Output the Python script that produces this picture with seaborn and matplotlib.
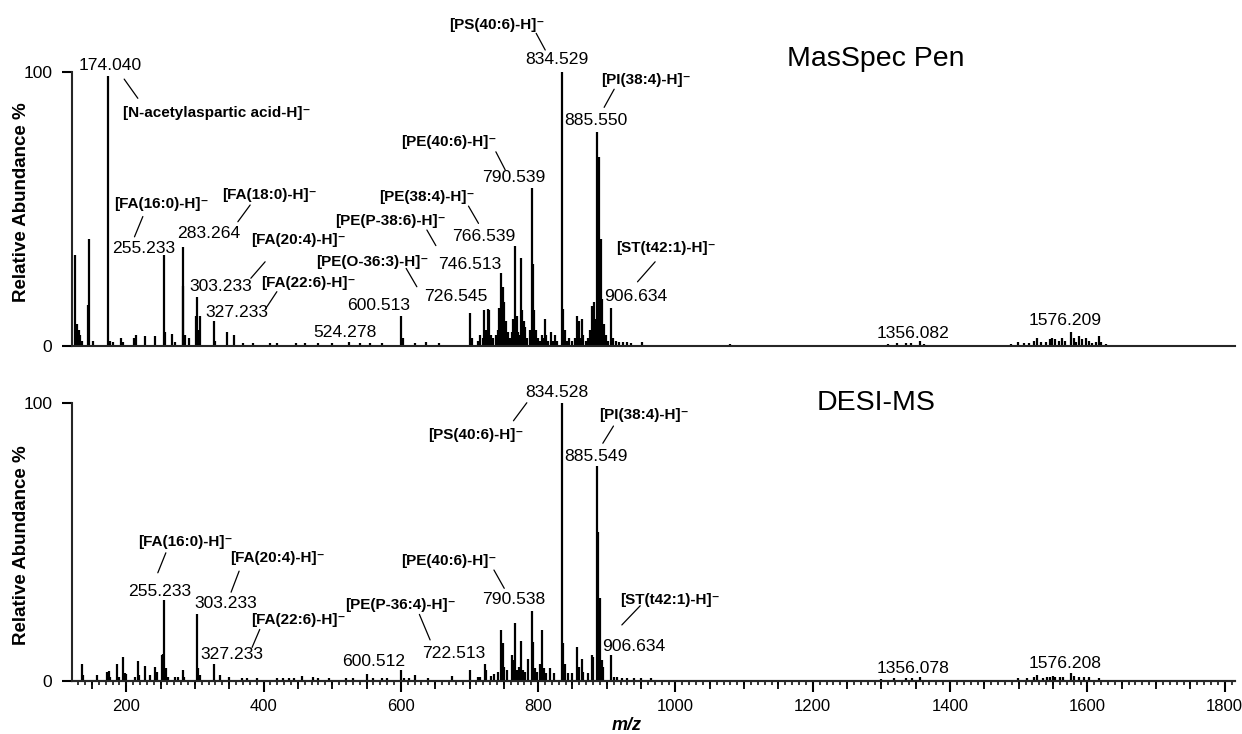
import matplotlib
matplotlib.use("Agg")
import matplotlib.pyplot as plt
from matplotlib.ticker import MultipleLocator, FixedLocator, NullFormatter
import seaborn as sns

# ---------------- data ----------------
top_mz = [125.6, 127.5, 129.0, 131.0, 133.0, 135.5, 144.5, 146.1, 151.0, 174.04, 176.0, 180.0,
          192.0, 196.0, 212.0, 214.5, 227.0, 242.0, 255.233, 257.0, 267.0, 271.0, 282.4, 283.264,
          285.0, 291.0, 301.5, 303.233, 305.0, 307.6, 327.233, 329.0, 346.5, 357.6, 370, 385, 410,
          420, 447, 460, 480, 500, 524.278, 540, 555, 572, 600.513, 602.5, 620, 637, 655,
          700.5, 703, 712, 715.5, 719, 721.8, 724, 726.545, 728.6, 731, 734, 738, 741, 743.6,
          746.513, 748.1, 750.5, 753, 756, 759, 762, 763.5, 766.539, 768.5, 770, 772, 775.3,
          777, 779, 781.5, 784, 788, 790.539, 792.6, 794.5, 797, 800, 803, 806, 808, 810.2,
          812, 815, 818, 821, 825, 828, 834.529, 836.5, 838.5, 842, 845, 850, 853, 856.4, 859,
          861, 863.7, 866, 870, 873, 875.5, 878.3, 881, 883, 885.55, 887.2, 888.9, 891.3, 893.5,
          896, 899, 902, 906.634, 909, 914, 918, 923, 929, 935, 951, 970, 1010, 1080, 1300,
          1310, 1322, 1336, 1343, 1356.082, 1362, 1470, 1488, 1499, 1507, 1515, 1522, 1527,
          1533, 1540, 1545, 1549, 1553, 1558, 1563, 1568, 1576.209, 1580, 1584, 1588, 1592,
          1598, 1602, 1606, 1612, 1617, 1620, 1627, 1645, 1660, 1670, 1687, 1725]
top_int = [33, 8, 8, 6, 4, 2, 15, 39, 2, 98.5, 2, 1.5,
           3, 1.5, 3, 4, 3.5, 3.5, 33, 5, 4.5, 1.5, 22, 36,
           4, 3, 11, 18, 6, 11, 9, 2, 5, 4, 1, 1, 1,
           1, 1, 1.2, 1.2, 1, 1.5, 1, 1, 1, 11, 3, 1, 1.5, 1,
           12, 3, 2, 4, 3, 13, 6, 13.5, 13, 4, 3, 4, 6, 14,
           26.5, 21.5, 16, 9, 5, 3, 5, 10, 36.5, 11, 5, 4, 32,
           13, 9, 7, 3, 6, 57.5, 30, 13, 6, 3, 2, 4, 3, 10,
           4, 2, 5, 2, 4, 2, 100, 13.5, 6, 2, 3, 2, 3, 11, 9,
           3, 10, 4, 2, 3, 6, 14.5, 16, 10, 78, 30, 69, 39, 17,
           8, 4, 2, 14, 3, 2, 1.5, 1.5, 1.5, 1, 1.5, 0.5, 0.5, 0.8, 0.5,
           0.8, 1, 1.2, 1, 2, 0.8, 0.5, 0.8, 1.5, 1, 1.2, 1.8, 3,
           1.5, 1.5, 2.5, 3, 2.5, 1.8, 3, 2, 5, 3, 1.5, 3.5, 2.5,
           3, 2, 1.2, 1.5, 3.5, 1.5, 0.6, 0.5, 0.5, 0.5, 0.5, 0.5]

bot_mz = [135.3, 137, 157.2, 171.7, 173.5, 175, 177, 187.2, 190, 196, 198, 200, 213, 216.9,
          219, 227.5, 234, 242.1, 245, 251.9, 253.5, 255.233, 257.5, 261, 271, 276, 282.4, 284,
          303.233, 305, 307, 327.233, 336.8, 350, 368, 376, 390, 420, 428, 437, 445, 455.5,
          472, 480, 495, 520, 530, 550.4, 560, 572, 580, 600.512, 605, 612, 620.8, 640, 674.2,
          700, 712, 716, 722.513, 724.5, 731, 736, 741, 746.1, 748.1, 750.5, 755, 761.7, 763.5,
          766.5, 768.5, 772, 775.3, 777.5, 781, 785, 790.538, 792.6, 795, 798, 803, 806.3, 808.5,
          812, 817, 823, 834.528, 836.9, 838.5, 843, 850, 856.4, 859, 863.7, 866, 872, 878.3,
          880.5, 885.549, 887.6, 890, 892.5, 895, 906.634, 910, 915, 922, 930, 940, 950, 965,
          1300, 1318, 1336, 1344, 1356.078, 1499, 1512, 1522, 1527, 1536, 1541, 1545, 1550,
          1553, 1560, 1565, 1576.208, 1580, 1588, 1595, 1602, 1617]
bot_int = [6.2, 2, 2, 3, 3.2, 3.5, 1.5, 5.9, 1.5, 8.4, 2.6, 2.5, 1.5, 7.1,
           2, 5.4, 2, 5, 3.2, 9.3, 9.6, 29.1, 4.4, 1.5, 1.5, 1.5, 3.8, 1.5,
           23.9, 4.4, 2, 5.9, 2, 1.2, 1, 1, 1, 1, 1, 1, 1, 1.8,
           1.4, 1, 1, 1, 1, 2.4, 1, 1, 1, 3.8, 1, 1, 2, 0.8, 1.7,
           3.8, 1.5, 1.5, 6.2, 4, 1.7, 2.4, 3.2, 18.3, 13.5, 5, 4, 9.3, 7.5,
           20.7, 4, 5, 14.4, 4, 3.2, 8, 25.1, 14, 4.4, 3.2, 6.2, 18.3, 4.4,
           2.6, 4.4, 2.6, 100, 13.5, 6.2, 2.6, 2.6, 12.3, 5, 8, 3.2, 2.6, 9.3,
           8.7, 77.5, 53.7, 29.7, 7.5, 5, 9.3, 1.5, 1.2, 1, 1, 1, 0.8, 0.8,
           0.5, 0.8, 1, 1, 1.2, 1, 1, 1.5, 2.2, 1, 1.2, 1.5, 1.8,
           1.5, 1.3, 1.3, 2.8, 1.8, 1.3, 1.3, 1.2, 1]

# annotation texts: (text, m/z, %)
top_numbers = [("174.040", 176.5, 102.4), ("255.233", 226, 35.6), ("283.264", 319.7, 41.1),
               ("303.233", 337.2, 21.6), ("327.233", 360.5, 12.1), ("524.278", 518.9, 5.0),
               ("600.513", 567, 14.6), ("726.545", 680.1, 18.2), ("746.513", 701, 29.8),
               ("766.539", 720.3, 39.8), ("790.539", 764, 61.4), ("834.529", 827.7, 104.5),
               ("885.550", 884.5, 82.1), ("906.634", 941.7, 18.2), ("1356.082", 1346.7, 4.6),
               ("1576.209", 1567.7, 9.2)]
top_ions = [("[FA(16:0)-H]", 251.3, 51.8), ("[FA(18:0)-H]", 408.6, 55),
            ("[FA(20:4)-H]", 450.4, 38.6), ("[FA(22:6)-H]", 466, 22.9),
            ("[PE(O-36:3)-H]", 558.2, 30.7), ("[PE(P-38:6)-H]", 584.4, 45.7),
            ("[PE(38:4)-H]", 638.3, 54.4), ("[PE(40:6)-H]", 670.3, 74.5),
            ("[PS(40:6)-H]", 740.3, 117), ("[PI(38:4)-H]", 956.8, 97),
            ("[ST(t42:1)-H]", 985.4, 35.6)]
top_leaders = [((197, 97.3), (216.9, 90.3)), ((224.2, 47.2), (212, 39.8)),
               ((380.5, 51.4), (362.6, 45.3)), ((402.3, 30.7), (381.5, 24.7)),
               ((419.4, 19.8), (403.3, 13.7)), ((607.7, 28.3), (623.3, 21.6)),
               ((637.9, 42.3), (651, 36.6)), ((698.5, 51), (713.1, 44.7)),
               ((738.4, 70.8), (752, 64.2)), ((797.1, 114), (810.3, 107.9)),
               ((910.7, 93.6), (896.1, 87)), ((970.4, 30.7), (944.7, 23.4))]

bot_numbers = [("255.233", 249.4, 32.1), ("303.233", 344.5, 27.9), ("327.233", 354.6, 9.3),
               ("600.512", 560, 6.9), ("722.513", 677.2, 9.9), ("790.538", 764, 29.1),
               ("834.528", 827.7, 103.8), ("885.549", 884.5, 81), ("906.634", 939.8, 12.5),
               ("1356.078", 1346.7, 4.5), ("1576.208", 1567.7, 6.3)]
bot_ions = [("[FA(16:0)-H]", 286.8, 50.1), ("[FA(20:4)-H]", 420.8, 44.1),
            ("[FA(22:6)-H]", 450.8, 21.9), ("[PE(P-36:4)-H]", 599.9, 27.3),
            ("[PE(40:6)-H]", 670.3, 43.3), ("[PS(40:6)-H]", 708.7, 88.6),
            ("[PI(38:4)-H]", 954.3, 95.8), ("[ST(t42:1)-H]", 991.7, 29.1)]
bot_leaders = [((257.7, 46.1), (246, 38.9)), ((364.4, 39.5), (352.7, 31.9)),
               ((394.5, 18.5), (383.3, 12)), ((627, 23.9), (642.6, 14.7)),
               ((735.6, 39.9), (750.6, 33.3)), ((764, 93.7), (783.5, 100.2)),
               ((909.7, 91.8), (894.2, 85.6)), ((948.6, 27), (921.9, 20.1))]

# ---------------- style ----------------
sns.set_theme(style="ticks")
plt.rcParams["font.family"] = ["Liberation Sans", "DejaVu Sans"]
plt.rcParams["axes.linewidth"] = 1.5
FAM = ["Liberation Sans", "DejaVu Sans"]

W, H = 1242, 734
fig = plt.figure(figsize=(W / 100, H / 100), dpi=100)
XL = (121, 1815)
left = 72 / W
width = (1235 - 72) / W
ax1 = fig.add_axes([left, 1 - 346 / H, width, 346 / H])
ax2 = fig.add_axes([left, 1 - 680.7 / H, width, 119 * 2.774 / H])


def style_axis(ax, top):
    ax.set_xlim(*XL)
    ax.set_ylim(0, top)
    sns.despine(ax=ax)
    ax.spines["left"].set_bounds(0, 100)
    ax.set_yticks([0, 100])
    ax.set_yticklabels(["0", "100"])
    ax.tick_params(axis="y", length=7.2, width=1.5, direction="out", pad=7, labelsize=12.5,
                   color="black", labelcolor="black")
    ax.set_ylabel("Relative Abundance %", fontsize=13.5, fontweight="bold", color="black")
    ax.yaxis.label.set_va("center")
    ax.grid(False)


def draw(ax, mz, inten, numbers, ions, leaders):
    ax.vlines(mz, 0, inten, color="black", lw=1.6, capstyle="butt")
    for t, x, y in numbers:
        ax.text(x, y, t, ha="center", va="center", fontsize=12.6, color="black", clip_on=False)
    for t, x, y in ions:
        ax.text(x, y, t + "\u207b", ha="center", va="center", fontsize=11, fontweight="bold",
                family=FAM, color="black", clip_on=False)
    for (x0, y0), (x1, y1) in leaders:
        ax.annotate("", xy=(x1, y1), xytext=(x0, y0),
                    arrowprops=dict(arrowstyle="-", lw=0.9, color="black",
                                    shrinkA=0, shrinkB=0))


style_axis(ax1, 346 / 2.743)
style_axis(ax2, 119)
ax1.yaxis.set_label_coords(-0.043, 52.5 / (346 / 2.743))
ax2.yaxis.set_label_coords(-0.043, 48.7 / 119)

draw(ax1, top_mz, top_int, top_numbers, top_ions, top_leaders)
draw(ax2, bot_mz, bot_int, bot_numbers, bot_ions, bot_leaders)

ax1.text(195, 84.8, "[N-acetylaspartic acid-H]\u207b", ha="left", va="center", fontsize=11,
         fontweight="bold", family=FAM, color="black")
ax1.text(1291.9, 104.5, "MasSpec Pen", ha="center", va="center", fontsize=20.5, color="black")
ax2.text(1291.9, 100, "DESI-MS", ha="center", va="center", fontsize=20.5, color="black")

# x axes
ax1.tick_params(axis="x", bottom=False, labelbottom=False)
ax2.xaxis.set_major_locator(FixedLocator(list(range(200, 1801, 200))))
ax2.xaxis.set_minor_locator(MultipleLocator(10))
ax2.tick_params(axis="x", which="major", length=8, width=1.5, direction="out", pad=5.5,
                labelsize=12, color="black", labelcolor="black")
ax2.tick_params(axis="x", which="minor", length=3, width=1.1, direction="out", color="black")
sec = ax2.secondary_xaxis("bottom")
sec.set_xticks([v for v in range(150, 1801, 50) if v % 200])
sec.xaxis.set_major_formatter(NullFormatter())
sec.tick_params(axis="x", length=5.5, width=1.3, direction="out", color="black")
sec.spines["bottom"].set_linewidth(1.5)
ax2.set_xlabel("m/z", fontsize=13, fontweight="bold", style="italic", color="black")
ax2.xaxis.set_label_coords((627 - 72) / (1235 - 72), -0.11)

fig.savefig("out.png", dpi=100, facecolor="white")
